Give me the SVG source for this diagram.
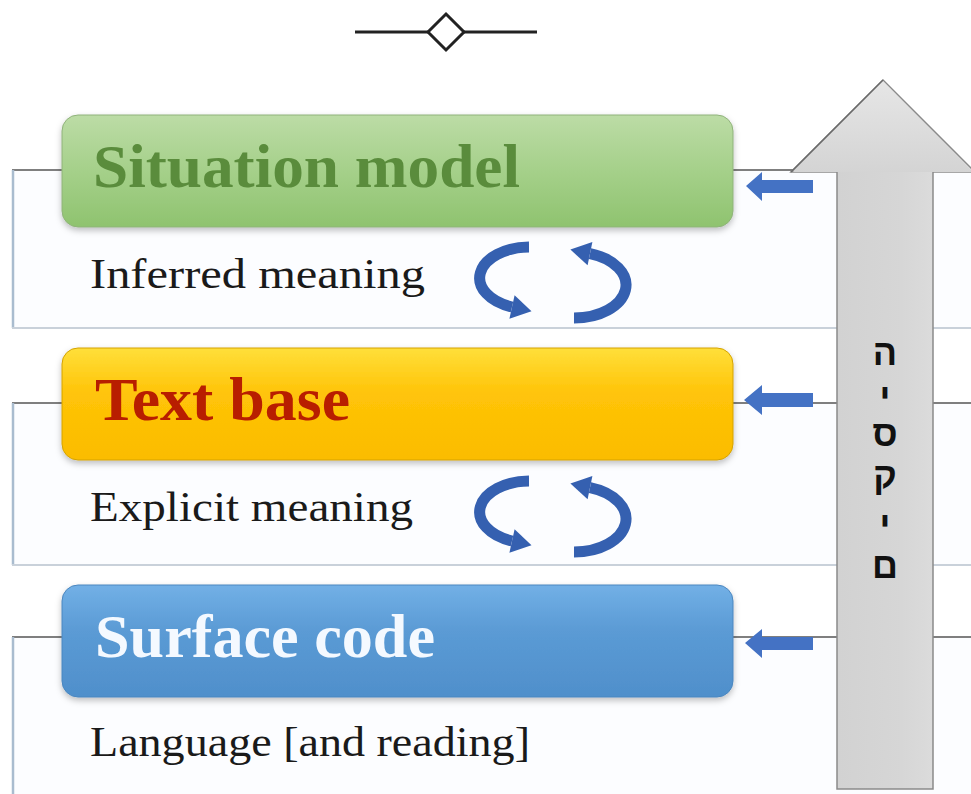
<svg xmlns="http://www.w3.org/2000/svg" width="971" height="794" viewBox="0 0 971 794">
<style>
.panel{fill:#fcfdff;stroke:none}
.ptop{stroke:#7f7f7f;stroke-width:2;fill:none}
.pleft{stroke:#a9bccf;stroke-width:2.5;fill:none}
.pbot{stroke:#c9d1da;stroke-width:2;fill:none}
.title{font-family:"Liberation Serif","Times New Roman",serif;font-weight:bold;font-size:62px}
.sub{font-family:"Liberation Serif","Times New Roman",serif;font-size:43px;fill:#1a1a1a}
.heb{font-family:"Liberation Sans","DejaVu Sans",sans-serif;font-weight:bold;font-size:36px;fill:#111}
.small{fill:#4472c4}
.cyc{fill:none;stroke:#3560b0;stroke-width:11}
.cyh{fill:#3560b0}
</style>
<defs>
<linearGradient id="gG" x1="0" y1="0" x2="0" y2="1"><stop offset="0" stop-color="#bcdca6"/><stop offset="0.5" stop-color="#a5d08a"/><stop offset="1" stop-color="#8fc36f"/></linearGradient>
<linearGradient id="gY" x1="0" y1="0" x2="0" y2="1"><stop offset="0" stop-color="#ffdf3a"/><stop offset="0.4" stop-color="#ffc408"/><stop offset="1" stop-color="#fbbc00"/></linearGradient>
<linearGradient id="gB" x1="0" y1="0" x2="0" y2="1"><stop offset="0" stop-color="#72b0e6"/><stop offset="0.4" stop-color="#5b9bd5"/><stop offset="1" stop-color="#4f8fcb"/></linearGradient>
<linearGradient id="gS" x1="0" y1="0" x2="1" y2="0"><stop offset="0" stop-color="#cfcfcf"/><stop offset="0.6" stop-color="#d6d6d6"/><stop offset="1" stop-color="#e2e2e2"/></linearGradient>
<linearGradient id="gH" x1="0" y1="0" x2="0" y2="1"><stop offset="0" stop-color="#e6e6e6"/><stop offset="1" stop-color="#d4d4d4"/></linearGradient>
<filter id="sh" x="-5%" y="-10%" width="110%" height="130%"><feDropShadow dx="0" dy="3" stdDeviation="3" flood-color="#000" flood-opacity="0.25"/></filter>
</defs>
<rect width="971" height="794" fill="#ffffff"/>

<g id="symbol">
<line x1="355" y1="32" x2="537" y2="32" stroke="#222" stroke-width="3"/>
<polygon points="446,14 464,32 446,50 428,32" fill="#fff" stroke="#222" stroke-width="3"/>
</g>

<g id="panel1">
<rect class="panel" x="12" y="170" width="965" height="158"/>
<line class="ptop" x1="12" y1="170" x2="977" y2="170"/>
<line class="pleft" x1="13" y1="170" x2="13" y2="328"/>
<line class="pbot" x1="12" y1="328" x2="977" y2="328"/>
</g>
<g id="panel2">
<rect class="panel" x="12" y="403" width="965" height="162"/>
<line class="ptop" x1="12" y1="403" x2="977" y2="403"/>
<line class="pleft" x1="13" y1="403" x2="13" y2="565"/>
<line class="pbot" x1="12" y1="565" x2="977" y2="565"/>
</g>
<g id="panel3">
<rect class="panel" x="12" y="637" width="965" height="160"/>
<line class="ptop" x1="12" y1="637" x2="977" y2="637"/>
<line class="pleft" x1="13" y1="637" x2="13" y2="797"/>
</g>

<g id="bigarrow">
<path d="M883 80 L975 172 L933 172 L933 789 L837 789 L837 172 L791 172 Z" fill="url(#gS)" stroke="#8a8a8a" stroke-width="1.5"/>
<path d="M883 81 L973 172 L793 172 Z" fill="url(#gH)"/>
<line x1="883" y1="80" x2="791" y2="172" stroke="#6a6a6a" stroke-width="1.5"/>
<text class="heb" text-anchor="middle"><tspan x="885" y="365">ה</tspan><tspan x="885" y="409">י</tspan><tspan x="885" y="446">ס</tspan><tspan x="885" y="488">ק</tspan><tspan x="885" y="537">י</tspan><tspan x="885" y="578">ם</tspan></text>
</g>

<g id="situation">
<rect x="62" y="115" width="671" height="112" rx="16" fill="url(#gG)" stroke="#8fb27a" stroke-width="1" filter="url(#sh)"/>
<text class="title" x="93" y="187" fill="#5a8c3c" textLength="427" lengthAdjust="spacingAndGlyphs">Situation model</text>
</g>
<g id="inferred"><text class="sub" x="90" y="288" textLength="335" lengthAdjust="spacingAndGlyphs">Inferred meaning</text></g>

<g id="textbase">
<rect x="62" y="348" width="671" height="112" rx="16" fill="url(#gY)" stroke="#d4a200" stroke-width="1" filter="url(#sh)"/>
<text class="title" x="95" y="420" fill="#b81e00" textLength="255" lengthAdjust="spacingAndGlyphs">Text base</text>
</g>
<g id="explicit"><text class="sub" x="90" y="521" textLength="323" lengthAdjust="spacingAndGlyphs">Explicit meaning</text></g>

<g id="surface">
<rect x="62" y="585" width="671" height="112" rx="16" fill="url(#gB)" stroke="#4a86bf" stroke-width="1" filter="url(#sh)"/>
<text class="title" x="95" y="657" fill="#f4f9ff" textLength="340" lengthAdjust="spacingAndGlyphs">Surface code</text>
</g>
<g id="language"><text class="sub" x="90" y="756" textLength="440" lengthAdjust="spacingAndGlyphs">Language [and reading]</text></g>

<g id="connectors">
<polygon class="small" points="746,186 762,172 762,180 813,180 813,193 762,193 762,201"/>
<polygon class="small" points="744,400 762,385 762,393 813,393 813,407 762,407 762,415"/>
<polygon class="small" points="745,643 762,629 762,637 813,637 813,650 762,650 762,658"/>
<g id="cycle1">
<path class="cyc" d="M529 247 A50 31 0 0 0 512 307"/>
<polygon class="cyh" points="531.5,311.3 509.4,318.7 514.6,295.3"/>
<path class="cyc" d="M574 318 A52 33 0 0 0 590 253.6"/>
<polygon class="cyh" points="570.4,249.6 592.4,241.9 587.6,265.3"/>
</g>
<g id="cycle2" transform="translate(0,234)">
<path class="cyc" d="M529 247 A50 31 0 0 0 512 307"/>
<polygon class="cyh" points="531.5,311.3 509.4,318.7 514.6,295.3"/>
<path class="cyc" d="M574 318 A52 33 0 0 0 590 253.6"/>
<polygon class="cyh" points="570.4,249.6 592.4,241.9 587.6,265.3"/>
</g>
</g>
</svg>
